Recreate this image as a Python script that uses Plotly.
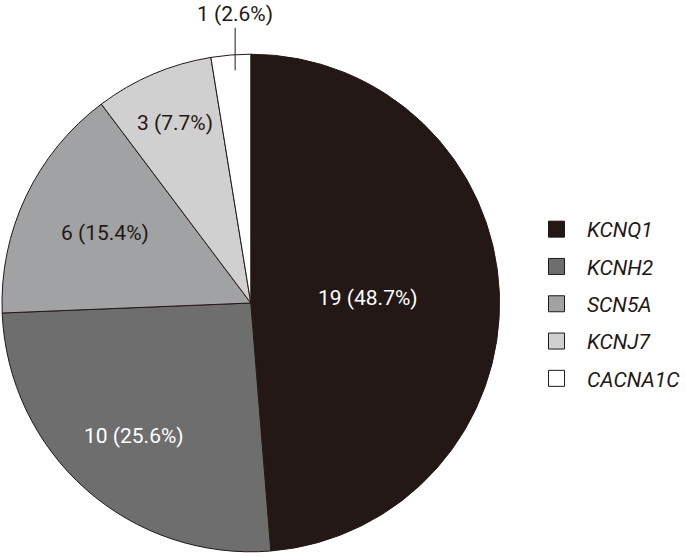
import math
import plotly.graph_objects as go

genes = ["KCNQ1", "KCNH2", "SCN5A", "KCNJ7", "CACNA1C"]
counts = [19, 10, 6, 3, 1]
percents = [48.7, 25.6, 15.4, 7.7, 2.6]
colors = ["#231815", "#6e6e6e", "#a0a2a3", "#d0d0d0", "#ffffff"]
text_colors = ["white", "white", "#231815", "#231815", "#231815"]
# how far out from the centre each label sits (fraction of radius)
label_radius = [0.47, 0.71, 0.65, 0.78, 0.93]

labels = [f"{c} ({p}%)" for c, p in zip(counts, percents)]

W, H = 686, 557
FONT = "Roboto, sans-serif"
dom_x = [2 / W, 504 / W]
dom_y = [3 / H, 505 / H]

fig = go.Figure(go.Pie(
    labels=genes,
    values=counts,
    textinfo="none",
    marker=dict(colors=colors, line=dict(color="#231815", width=1)),
    sort=False,
    direction="clockwise",
    rotation=0,
    domain=dict(x=dom_x, y=dom_y),
    showlegend=False,
    hoverinfo="label+percent",
))

# legend entries as dummy traces so the squares and spacing can be sized
for g, c in zip(genes, colors):
    fig.add_trace(go.Scatter(
        x=[None], y=[None], mode="markers", name=g, legendgroup=g,
        marker=dict(symbol="square", size=16, color=c, line=dict(color="#231815", width=1)),
    ))

# slice labels at the middle angle of each slice
total = sum(counts)
cx = (dom_x[0] + dom_x[1]) / 2 * W
cy = (1 - (dom_y[0] + dom_y[1]) / 2) * H
r_px = (dom_x[1] - dom_x[0]) * W / 2
start = 0
for i, (c, lab) in enumerate(zip(counts, labels)):
    mid = (start + c / 2) / total * 2 * math.pi
    start += c
    px = cx + label_radius[i] * r_px * math.sin(mid)
    py = cy - label_radius[i] * r_px * math.cos(mid)
    last = i == len(counts) - 1
    fig.add_annotation(
        x=(px + (3 if last else 0)) / W, y=1 - py / H, xref="paper", yref="paper",
        xanchor="center", yanchor="middle",
        text=lab, showarrow=last, arrowhead=0, arrowwidth=1, arrowcolor="#231815",
        ax=0, ay=-56, standoff=0,
        font=dict(family=FONT, size=21, color=text_colors[i]),
    )

fig.update_layout(
    width=W, height=H,
    margin=dict(l=0, r=0, t=0, b=0),
    paper_bgcolor="white",
    plot_bgcolor="white",
    xaxis=dict(visible=False),
    yaxis=dict(visible=False),
    legend=dict(
        x=531 / W, y=1 - 304 / H, xanchor="left", yanchor="middle",
        font=dict(family=FONT, size=21, color="#231815", style="italic"),
        itemwidth=51,
        tracegroupgap=7,
    ),
)

# page body has a default margin; remove it so the figure sits at the corner
fig.write_html("out.html", config={"displayModeBar": False},
               post_script="document.body.style.margin='0';")
